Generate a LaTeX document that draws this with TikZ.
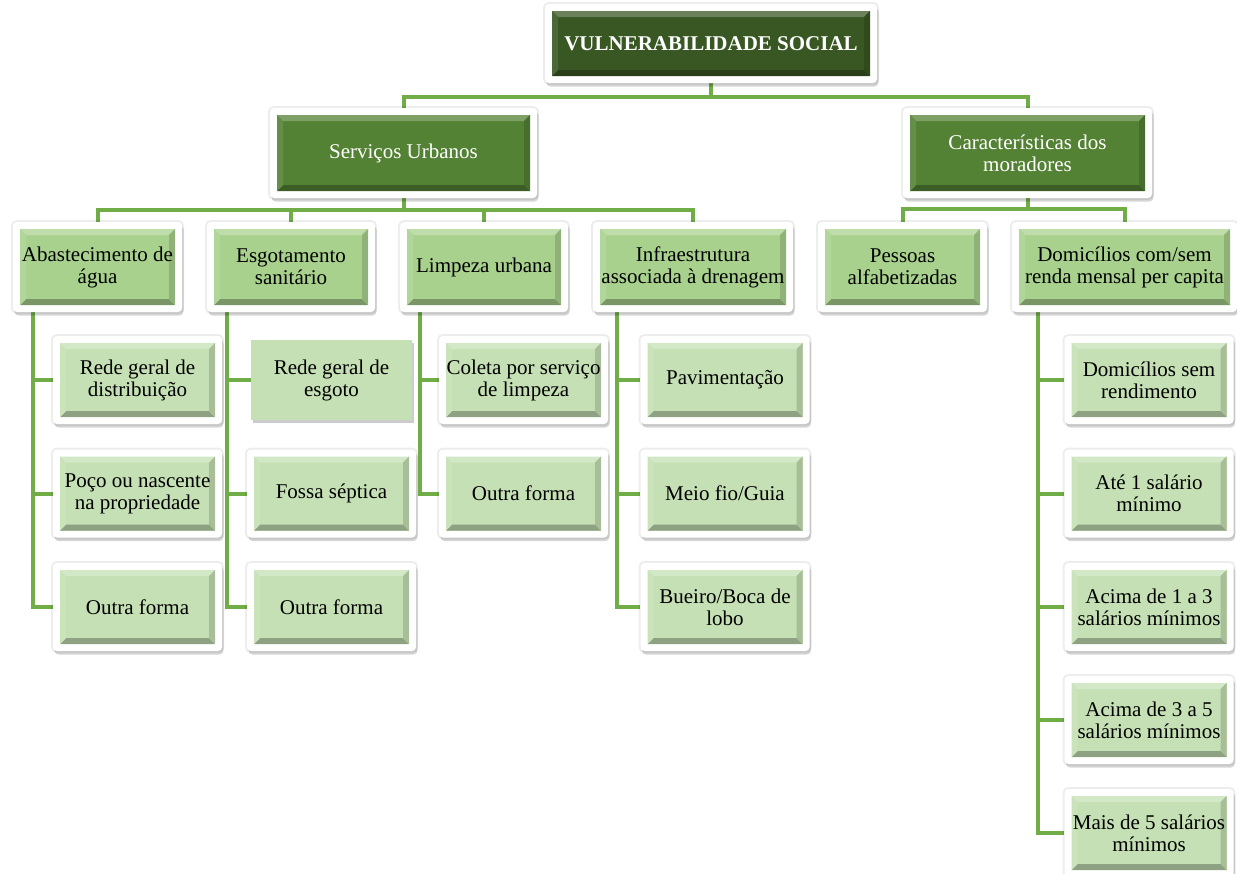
\documentclass[tikz,border=0pt]{standalone}
\usepackage{fontspec}
\setmainfont{Liberation Serif}
\usetikzlibrary{shadows,calc}
\definecolor{gTop}{HTML}{385723}
\definecolor{gMid}{HTML}{548235}
\definecolor{gL3}{HTML}{A9D18E}
\definecolor{gL4}{HTML}{C5E0B4}
\definecolor{gLine}{HTML}{70AD47}
\pgfdeclarelayer{background}
\pgfsetlayers{background,main}
\tikzset{
  conn/.style={draw=gLine, line width=4pt},
  frame/.style={fill=white, rounded corners=4pt, inner sep=0pt, align=center,
    font=\fontsize{21}{22}\selectfont,
    drop shadow={shadow xshift=1.5pt, shadow yshift=-3.5pt, opacity=0.16, fill=black},
    preaction={draw=black, draw opacity=0.07, line width=4pt}},
  bev/.style={path picture={
    \coordinate (pA) at ([shift={(7pt,7pt)}]path picture bounding box.south west);
    \coordinate (pB) at ([shift={(-7pt,-7pt)}]path picture bounding box.north east);
    \coordinate (pa) at ([shift={(13pt,13pt)}]path picture bounding box.south west);
    \coordinate (pb) at ([shift={(-13pt,-13pt)}]path picture bounding box.north east);
    \fill[sharp corners,#1] (pA) rectangle (pB);
    \fill[sharp corners,#1!75!white] (pA|-pB) -- (pB) -- (pb) -- (pa|-pb) -- cycle;
    \fill[sharp corners,#1!72!black] (pA) -- (pB|-pA) -- (pb|-pa) -- (pa) -- cycle;
    \fill[sharp corners,#1!90!white] (pA) -- (pA|-pB) -- (pa|-pb) -- (pa) -- cycle;
    \fill[sharp corners,#1!85!black] (pB|-pA) -- (pB) -- (pb) -- (pb|-pa) -- cycle;
  }},
  lvlone/.style={frame, bev=gTop, minimum width=332pt, minimum height=79pt, text=white,
    font=\bfseries\fontsize{21}{22}\selectfont},
  lvltwo/.style={frame, bev=gMid, minimum height=90pt, text=white},
  lvlthree/.style={frame, bev=gL3, minimum height=90pt, text=black},
  leafbox/.style={frame, bev=gL4, minimum width=169pt, minimum height=88pt, text=black},
  flatbox/.style={fill=gL4, inner sep=0pt, align=center, font=\fontsize{21}{22}\selectfont,
    minimum width=161pt, minimum height=80pt,
    drop shadow={shadow xshift=1.5pt, shadow yshift=-3pt, opacity=0.2, fill=black}},
}
\begin{document}
\begin{tikzpicture}[x=1pt,y=-1pt]
\useasboundingbox (0,0) rectangle (1237,873);
% level 1
\node[lvlone] (top) at (711,43.5) {VULNERABILIDADE SOCIAL};
% level 2
\node[lvltwo, minimum width=267pt] (su) at (403.5,153) {Serviços Urbanos};
\node[lvltwo, minimum width=249pt] (ca) at (1027.5,153) {Características dos\\moradores};
% level 3
\node[lvlthree, minimum width=169pt] (ab) at (97.5,267) {Abastecimento de\\água};
\node[lvlthree, minimum width=168pt] (es) at (291,267) {Esgotamento\\sanitário};
\node[lvlthree, minimum width=168pt] (li) at (484,267) {Limpeza urbana};
\node[lvlthree, minimum width=200pt] (in) at (693,267) {Infraestrutura\\associada à drenagem};
\node[lvlthree, minimum width=169pt] (pe) at (902.5,267) {Pessoas\\alfabetizadas};
\node[lvlthree, minimum width=225pt] (do) at (1124.5,267) {Domicílios com/sem\\renda mensal per capita};
% leaves
\node[leafbox] (a1) at (137.5,380) {Rede geral de\\distribuição};
\node[leafbox] (a2) at (137.5,493.5) {Poço ou nascente\\na propriedade};
\node[leafbox] (a3) at (137.5,607) {Outra forma};
\node[flatbox] (e1) at (331.5,380) {Rede geral de\\esgoto};
\node[leafbox] (e2) at (331.5,493.5) {Fossa séptica};
\node[leafbox] (e3) at (331.5,607) {Outra forma};
\node[leafbox] (l1) at (523.5,380) {Coleta por serviço\\de limpeza};
\node[leafbox] (l2) at (523.5,493.5) {Outra forma};
\node[leafbox] (i1) at (725,380) {Pavimentação};
\node[leafbox] (i2) at (725,493.5) {Meio fio/Guia};
\node[leafbox] (i3) at (725,607) {Bueiro/Boca de\\lobo};
\node[leafbox] (d1) at (1149,380) {Domicílios sem\\rendimento};
\node[leafbox] (d2) at (1149,493.5) {Até 1 salário\\mínimo};
\node[leafbox] (d3) at (1149,607) {Acima de 1 a 3\\salários mínimos};
\node[leafbox] (d4) at (1149,720) {Acima de 3 a 5\\salários mínimos};
\node[leafbox] (d5) at (1149,833) {Mais de 5 salários\\mínimos};
% connectors
\begin{pgfonlayer}{background}
\draw[conn] (top.south) -- +(0,-14pt) -| (su.north);
\draw[conn] (top.south) -- +(0,-14pt) -| (ca.north);
\foreach \c in {ab,es,li,in}{\draw[conn] (su.south) -- +(0,-12pt) -| (\c.north);}
\foreach \c in {pe,do}{\draw[conn] (ca.south) -- +(0,-11pt) -| (\c.north);}
\coordinate (abT) at ([xshift=20pt]ab.south west);
\coordinate (esT) at ([xshift=20pt]es.south west);
\coordinate (liT) at ([xshift=20pt]li.south west);
\coordinate (inT) at ([xshift=24pt]in.south west);
\coordinate (doT) at ([xshift=26pt]do.south west);
\draw[conn] (abT) |- (a3.west);
\foreach \c in {a1,a2}{\draw[conn] (\c.west) -- (\c.west -| abT);}
\draw[conn] (esT) |- (e3.west);
\foreach \c in {e1,e2}{\draw[conn] (\c.west) -- (\c.west -| esT);}
\draw[conn] (liT) |- (l2.west);
\draw[conn] (l1.west) -- (l1.west -| liT);
\draw[conn] (inT) |- (i3.west);
\foreach \c in {i1,i2}{\draw[conn] (\c.west) -- (\c.west -| inT);}
\draw[conn] (doT) |- (d5.west);
\foreach \c in {d1,d2,d3,d4}{\draw[conn] (\c.west) -- (\c.west -| doT);}
\end{pgfonlayer}
\end{tikzpicture}
\end{document}
